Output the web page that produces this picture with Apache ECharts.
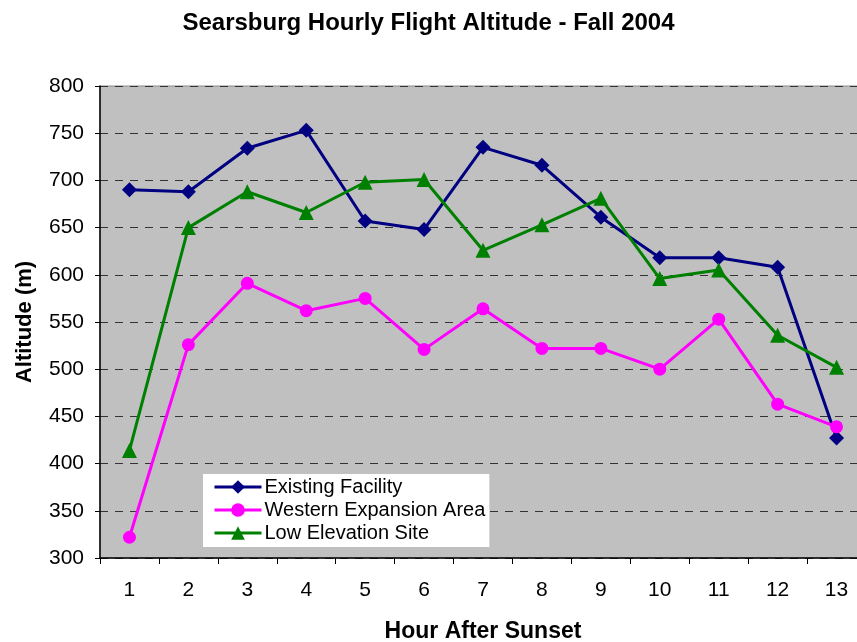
<!DOCTYPE html>
<html>
<head>
<meta charset="utf-8">
<script src="https://cdn.jsdelivr.net/npm/echarts@6/dist/echarts.min.js"></script>
<style>html,body{margin:0;padding:0;background:#fff}#c{width:857px;height:642px}</style>
</head>
<body>
<div id="c"></div>
<script>
var hours = ['1','2','3','4','5','6','7','8','9','10','11','12','13'];
var existingFacility = [690, 688, 734, 753, 657, 648, 735, 716, 661, 618, 618, 608, 427];
var westernExpansion = [322, 526, 591, 562, 575, 521, 564, 522, 522, 500, 553, 463, 439];
var lowElevation = [414, 650, 688, 666, 698, 701, 626, 653, 681, 596, 605, 536, 502];

var chart = echarts.init(document.getElementById('c'));
var font = 'Liberation Sans, Arial, sans-serif';
chart.setOption({
  animation: false,
  backgroundColor: '#ffffff',
  title: {
    text: 'Searsburg Hourly Flight Altitude - Fall 2004',
    left: 'center', top: 6,
    textStyle: { fontFamily: font, fontSize: 24, fontWeight: 'bold', color: '#000' }
  },
  legend: {
    orient: 'vertical',
    left: 203, top: 474,
    backgroundColor: '#ffffff',
    padding: [3, 4, 4, 10],
    itemGap: 3,
    itemWidth: 47, itemHeight: 17,
    textStyle: { fontFamily: font, fontSize: 20, color: '#000', padding: [0, 0, 0, -2] },
    lineStyle: { width: 3 },
    data: ['Existing Facility', 'Western Expansion Area', 'Low Elevation Site']
  },
  grid: {
    left: 100, top: 86, right: -9, bottom: 84,
    outerBoundsMode: 'none', containLabel: false,
    show: true, backgroundColor: '#C0C0C0', borderWidth: 1, borderColor: '#8a8a8a'
  },
  xAxis: {
    type: 'category', data: hours, boundaryGap: true,
    name: 'Hour After Sunset', nameLocation: 'middle', nameGap: 62,
    nameTextStyle: { fontFamily: font, fontSize: 23, fontWeight: 'bold', color: '#000' },
    axisLine: { lineStyle: { color: '#000', width: 1.5 } },
    axisTick: { show: true, length: 6, lineStyle: { color: '#000' } },
    axisLabel: { fontFamily: font, fontSize: 21, color: '#000', margin: 22 },
    splitLine: { show: false }
  },
  yAxis: {
    type: 'value', min: 300, max: 800, interval: 50,
    name: 'Altitude (m)', nameLocation: 'middle', nameGap: 64,
    nameTextStyle: { fontFamily: font, fontSize: 22, fontWeight: 'bold', color: '#000' },
    axisLine: { show: true, lineStyle: { color: '#000', width: 1.5 } },
    axisTick: { show: true, length: 5, lineStyle: { color: '#000' } },
    axisLabel: { fontFamily: font, fontSize: 21, color: '#000', margin: 16 },
    splitLine: { show: true, lineStyle: { color: '#333', type: [8, 7], width: 1 } }
  },
  series: [
    {
      name: 'Existing Facility', type: 'line', data: existingFacility,
      symbol: 'diamond', symbolSize: 15,
      lineStyle: { color: '#000080', width: 3 },
      itemStyle: { color: '#000080' }
    },
    {
      name: 'Western Expansion Area', type: 'line', data: westernExpansion,
      symbol: 'circle', symbolSize: 13,
      lineStyle: { color: '#FF00FF', width: 3 },
      itemStyle: { color: '#FF00FF' }
    },
    {
      name: 'Low Elevation Site', type: 'line', data: lowElevation,
      symbol: 'triangle', symbolSize: 15,
      lineStyle: { color: '#008000', width: 3 },
      itemStyle: { color: '#008000' }
    }
  ]
});
</script>
</body>
</html>
